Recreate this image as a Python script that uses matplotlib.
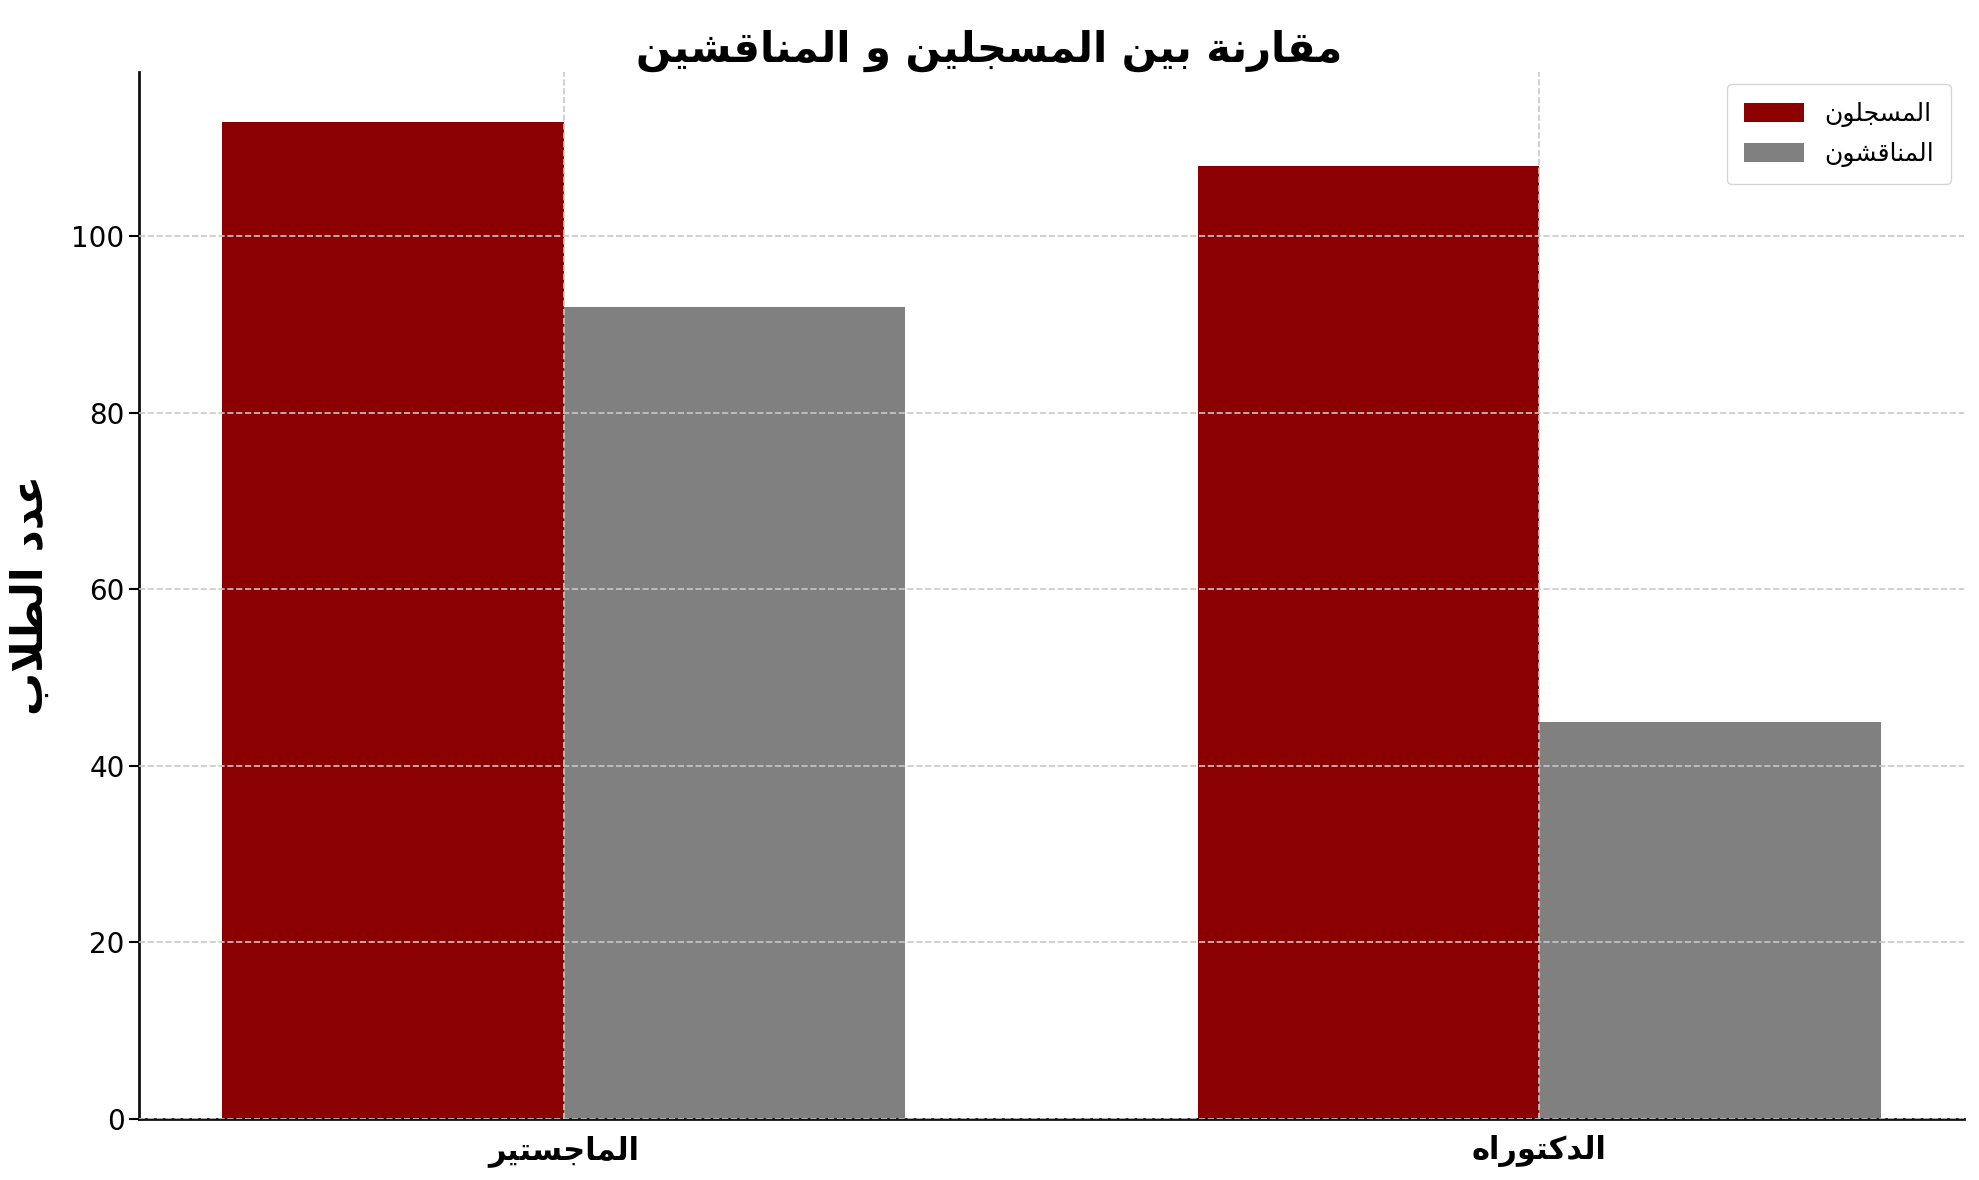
import matplotlib
matplotlib.use("Agg")
import matplotlib.pyplot as plt
import numpy as np

# data
categories = ["الماجستير", "الدكتوراه"]
registered = [113, 108]
defended = [92, 45]
series_names = ["المسجلون", "المناقشون"]
title_text = "مقارنة بين المسجلين و المناقشين"
ylabel_text = "عدد الطلاب"

# matplotlib has no arabic shaping, so pick presentation forms by hand
# letter: (isolated, final, initial, medial); None = does not join to the next letter
FORMS = {
    'ا': (0xFE8D, 0xFE8E, None, None),
    'ب': (0xFE8F, 0xFE90, 0xFE91, 0xFE92),
    'ة': (0xFE93, 0xFE94, None, None),
    'ت': (0xFE95, 0xFE96, 0xFE97, 0xFE98),
    'ج': (0xFE9D, 0xFE9E, 0xFE9F, 0xFEA0),
    'د': (0xFEA9, 0xFEAA, None, None),
    'ر': (0xFEAD, 0xFEAE, None, None),
    'س': (0xFEB1, 0xFEB2, 0xFEB3, 0xFEB4),
    'ش': (0xFEB5, 0xFEB6, 0xFEB7, 0xFEB8),
    'ط': (0xFEC1, 0xFEC2, 0xFEC3, 0xFEC4),
    'ع': (0xFEC9, 0xFECA, 0xFECB, 0xFECC),
    'ق': (0xFED5, 0xFED6, 0xFED7, 0xFED8),
    'ك': (0xFED9, 0xFEDA, 0xFEDB, 0xFEDC),
    'ل': (0xFEDD, 0xFEDE, 0xFEDF, 0xFEE0),
    'م': (0xFEE1, 0xFEE2, 0xFEE3, 0xFEE4),
    'ن': (0xFEE5, 0xFEE6, 0xFEE7, 0xFEE8),
    'ه': (0xFEE9, 0xFEEA, 0xFEEB, 0xFEEC),
    'و': (0xFEED, 0xFEEE, None, None),
    'ي': (0xFEF1, 0xFEF2, 0xFEF3, 0xFEF4),
    'لا': (0xFEFB, 0xFEFC, None, None),
}


def shape(text):
    # merge lam + alef into one unit
    units = []
    i = 0
    while i < len(text):
        if text[i] == 'ل' and i + 1 < len(text) and text[i + 1] == 'ا':
            units.append('لا')
            i += 2
        else:
            units.append(text[i])
            i += 1
    out = []
    for k, u in enumerate(units):
        if u not in FORMS:
            out.append(u)
            continue
        prev = units[k - 1] if k > 0 else None
        nxt = units[k + 1] if k + 1 < len(units) else None
        joins_prev = prev in FORMS and FORMS[prev][2] is not None
        joins_next = nxt in FORMS and FORMS[u][2] is not None
        iso, fin, ini, med = FORMS[u]
        if joins_prev and joins_next:
            c = med
        elif joins_prev:
            c = fin
        elif joins_next:
            c = ini
        else:
            c = iso
        out.append(chr(c))
    return ''.join(out)[::-1]


plt.rcParams['font.family'] = ['DejaVu Sans']

x = np.arange(len(categories))
width = 0.35

fig = plt.figure(figsize=(19.79, 11.8), dpi=100)
ax = fig.add_axes([0.0703, 0.052, 0.922, 0.887])

ax.bar(x, registered, width, color='#8B0000', label=shape(series_names[0]))
ax.bar(x + width, defended, width, color='#808080', label=shape(series_names[1]))

ax.set_xticks(x + width / 2)
ax.set_xticklabels([shape(c) for c in categories], fontsize=22, fontweight='bold')
ax.tick_params(axis='y', labelsize=20, length=7, width=1.5)
ax.tick_params(axis='x', length=0, pad=12)

ax.set_ylabel(shape(ylabel_text), fontsize=31, fontweight='bold', labelpad=14)
# title sits centred on the figure rather than on the axes
ax.set_title(shape(title_text), fontsize=30, fontweight='bold', pad=6, x=0.466)

ax.grid(True, linestyle='--', color='#c8c8c8', linewidth=1.2)
ax.set_axisbelow(False)
for side in ['top', 'right']:
    ax.spines[side].set_visible(False)
for side in ['left', 'bottom']:
    ax.spines[side].set_linewidth(2)
    ax.spines[side].set_color('#111111')

ax.legend(loc='upper right', fontsize=18, borderaxespad=0.5,
          handlelength=2.4, handleheight=0.8, borderpad=0.7, labelspacing=0.6)

fig.savefig('out.png', dpi=100)
